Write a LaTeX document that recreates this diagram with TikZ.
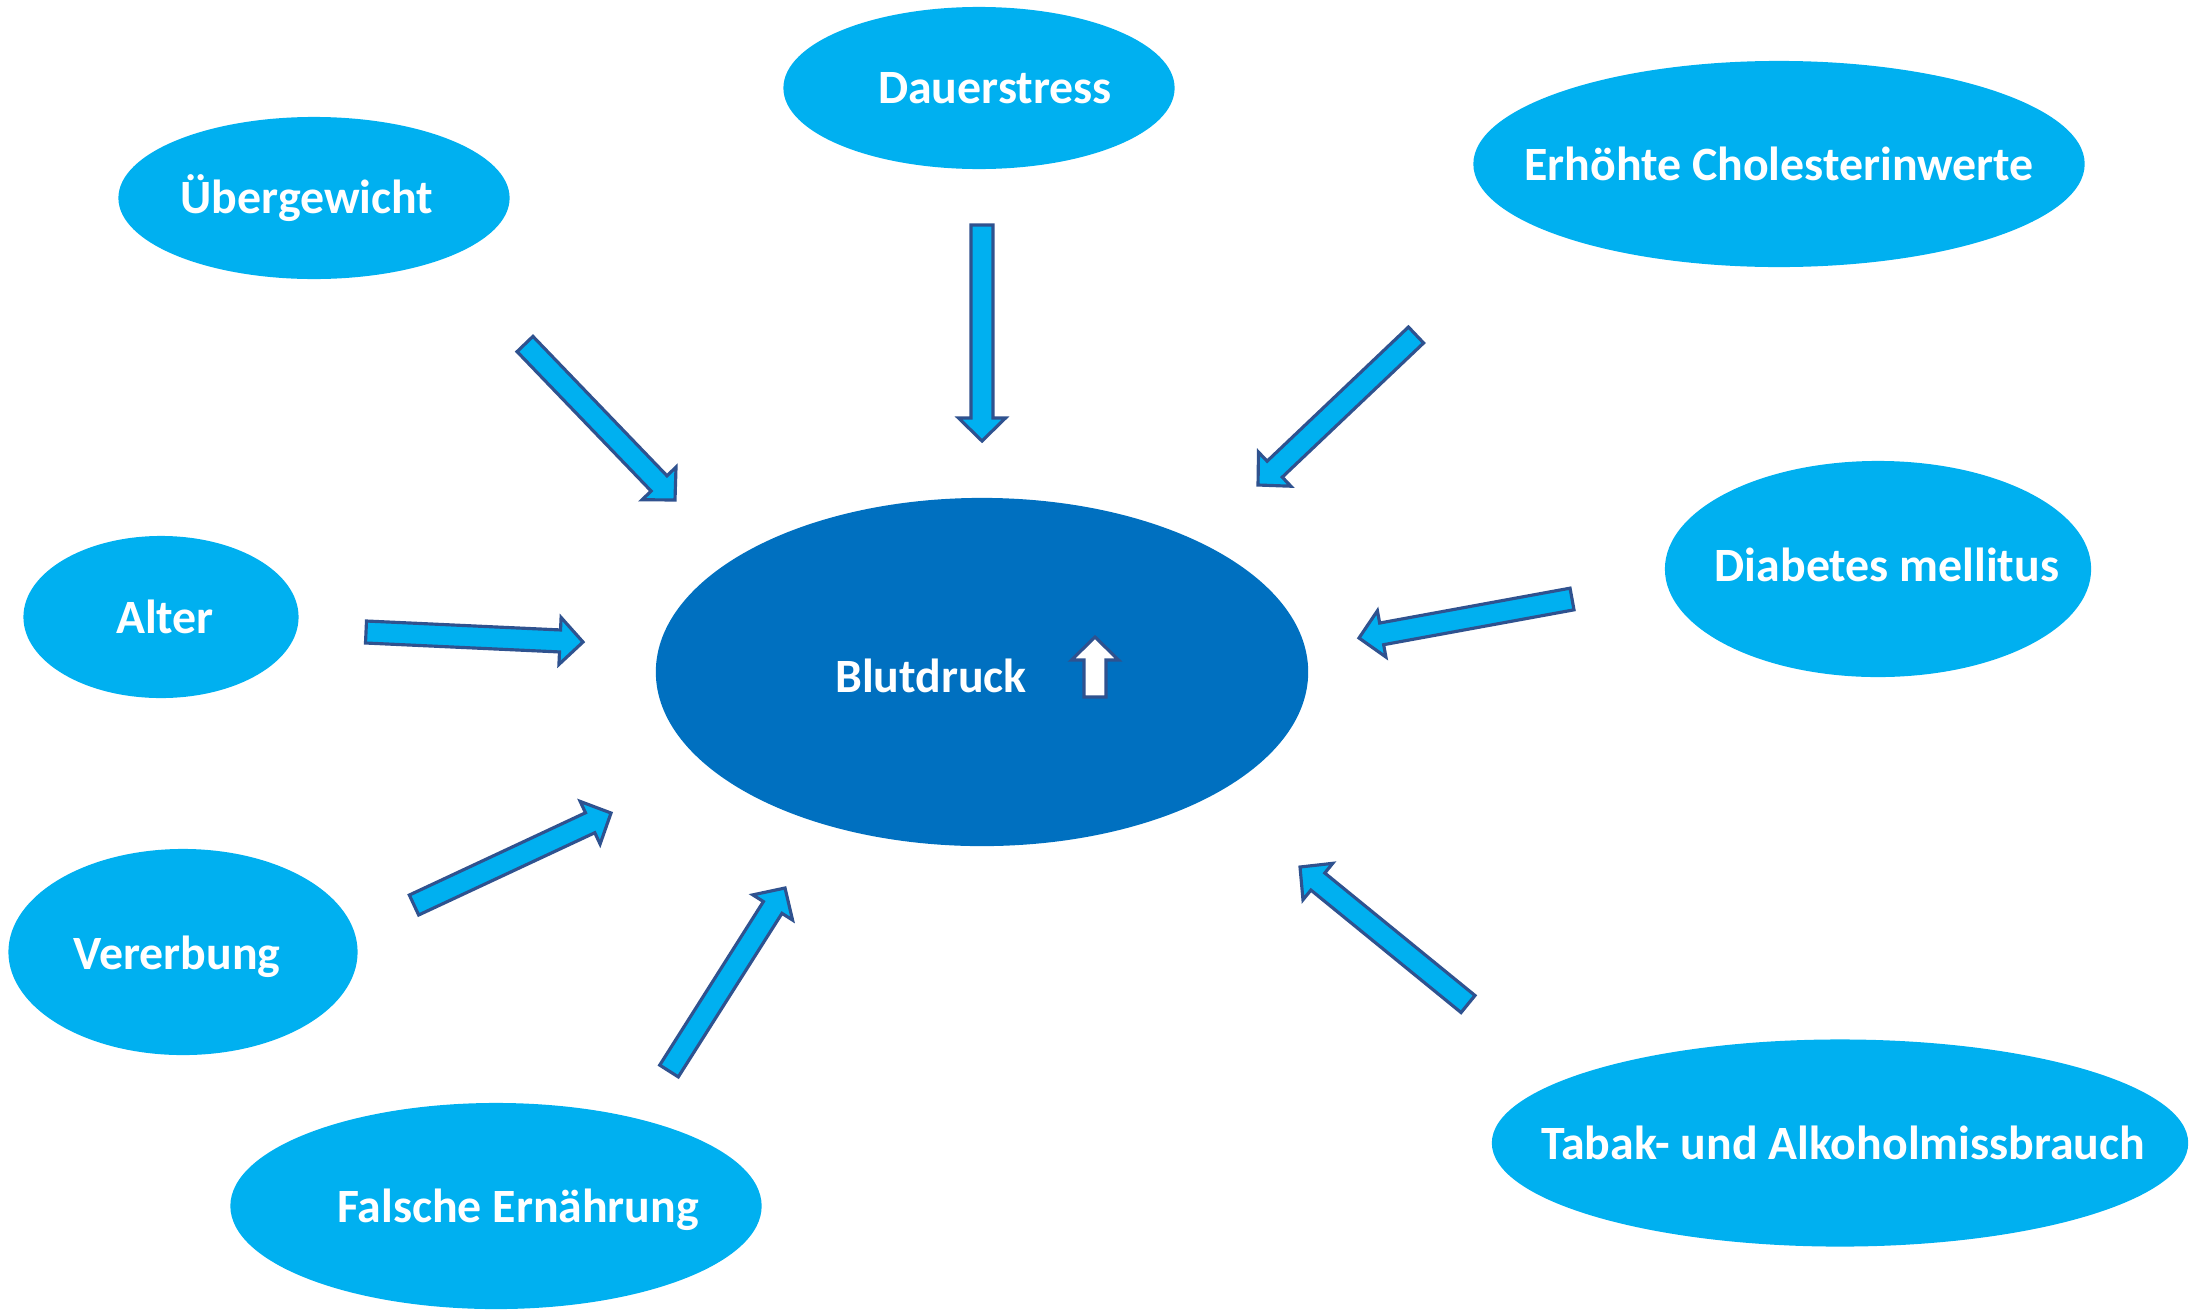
\documentclass[tikz,border=0pt]{standalone}
\usepackage{fontspec}
\setmainfont{Carlito}
\usetikzlibrary{shapes.geometric,calc}

\definecolor{causeblue}{HTML}{00B0F0}
\definecolor{centreblue}{HTML}{0070C0}
\definecolor{arrowline}{HTML}{2F528F}

% block arrow from #2 (tail) to #3 (tip)
\newcommand{\blockarrow}[3][]{%
  \coordinate (hb) at ($(#3)!0.23cm!(#2)$);
  \draw[blockarrow,#1] ($(#2)!0.11cm!90:(#3)$) -- ($(hb)!0.11cm!-90:(#2)$)
    -- ($(hb)!0.235cm!-90:(#2)$) -- (#3) -- ($(hb)!0.235cm!90:(#2)$)
    -- ($(hb)!0.11cm!90:(#2)$) -- ($(#2)!0.11cm!-90:(#3)$) -- cycle;}

\begin{document}
\begin{tikzpicture}[x=0.01cm, y=-0.01cm,
    font=\fontsize{13.6}{16}\selectfont\bfseries,
    cause/.style={ellipse, fill=causeblue, inner sep=0pt},
    causetext/.style={text=white},
    blockarrow/.style={fill=causeblue, draw=arrowline, line width=0.9pt, line join=miter}]

    \useasboundingbox (0,0) rectangle (2189,1312);

    % centre
    \node[cause, fill=centreblue, minimum width=6.52cm, minimum height=3.48cm,
      label={[causetext, xshift=-0.51cm, yshift=-0.04cm]center:Blutdruck}] (blut) at (982,672) {};

    % factors
    \node[cause, minimum width=3.91cm, minimum height=1.62cm,
      label={[causetext, xshift=0.16cm]center:Dauerstress}] (dauer) at (979,88) {};
    \node[cause, minimum width=3.91cm, minimum height=1.62cm,
      label={[causetext, xshift=-0.07cm]center:Übergewicht}] (ueber) at (314,198) {};
    \node[cause, minimum width=6.11cm, minimum height=2.06cm,
      label={[causetext]center:Erhöhte Cholesterinwerte}] (chol) at (1779,164) {};
    \node[cause, minimum width=4.26cm, minimum height=2.16cm,
      label={[causetext, xshift=0.09cm, yshift=0.04cm]center:Diabetes mellitus}] (diab) at (1878,569) {};
    \node[cause, minimum width=2.75cm, minimum height=1.62cm,
      label={[causetext, xshift=0.04cm]center:Alter}] (alter) at (161,617) {};
    \node[cause, minimum width=3.49cm, minimum height=2.06cm,
      label={[causetext, xshift=-0.06cm, yshift=-0.05cm]center:Vererbung}] (verer) at (183,952) {};
    \node[cause, minimum width=5.31cm, minimum height=2.06cm,
      label={[causetext, xshift=0.22cm, yshift=-0.04cm]center:Falsche Ernährung}] (falsch) at (496,1206) {};
    \node[cause, minimum width=6.96cm, minimum height=2.07cm,
      label={[causetext, xshift=0.03cm]center:Tabak- und Alkoholmissbrauch}] (tabak) at (1840,1143) {};

    % arrow ends
    \coordinate (ueber-tail) at (525,344);   \coordinate (ueber-tip) at (675,500);
    \coordinate (dauer-tail) at (982,225);   \coordinate (dauer-tip) at (982,441);
    \coordinate (chol-tail) at (1416,335);   \coordinate (chol-tip) at (1258,485);
    \coordinate (diab-tail) at (1572,599);   \coordinate (diab-tip) at (1359,638);
    \coordinate (alter-tail) at (366,632);   \coordinate (alter-tip) at (583,642);
    \coordinate (verer-tail) at (414,905);   \coordinate (verer-tip) at (611,813);
    \coordinate (falsch-tail) at (669,1071); \coordinate (falsch-tip) at (785,888);
    \coordinate (tabak-tail) at (1468,1004); \coordinate (tabak-tip) at (1300,867);
    \coordinate (up-tail) at (1095,697);     \coordinate (up-tip) at (1095,637);

    \foreach \f in {ueber,dauer,chol,diab,alter,verer,falsch,tabak}
        \blockarrow{\f-tail}{\f-tip};

    % rising pressure
    \blockarrow[fill=white]{up-tail}{up-tip}
\end{tikzpicture}
\end{document}
